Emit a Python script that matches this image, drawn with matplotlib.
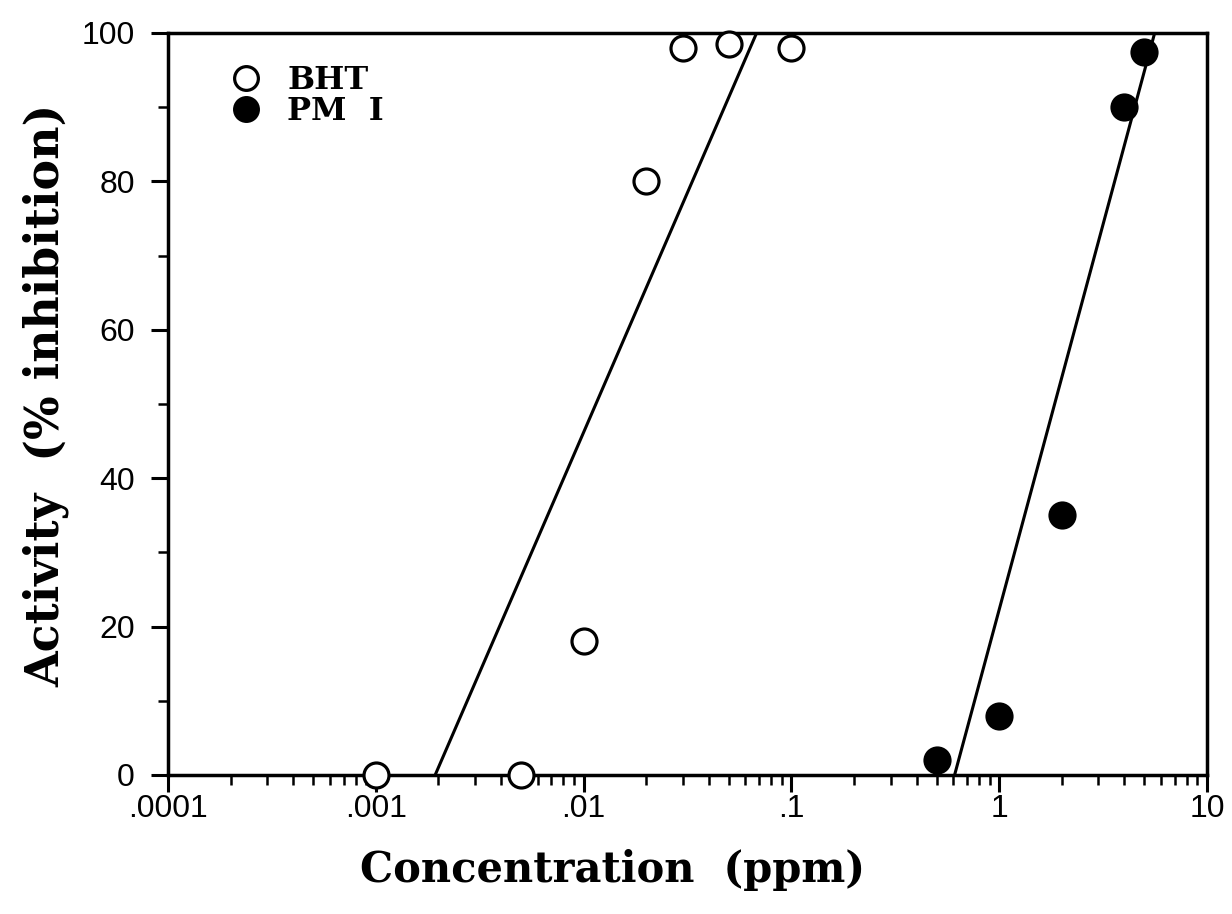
import matplotlib
matplotlib.use('Agg')
import matplotlib.pyplot as plt
import matplotlib.ticker as mticker
import numpy as np

# BHT (open circles)
bht_conc = [0.001, 0.005, 0.01, 0.02, 0.03, 0.05, 0.1]
bht_act = [0, 0, 18, 80, 98, 98.5, 98]
# PM I (filled circles)
pm_conc = [0.5, 1, 2, 4, 5]
pm_act = [2, 8, 35, 90, 97.5]

# fitted lines, concentration at 0 % and 100 %
bht_fit_conc = [0.00193, 0.068]
pm_fit_conc = [0.61, 5.6]
fit_act = [0, 100]

xticks = [1e-4, 1e-3, 1e-2, 1e-1, 1, 10]
xticklabels = ['.0001', '.001', '.01', '.1', '1', '10']
yticks = [0, 20, 40, 60, 80, 100]

fig = plt.figure(figsize=(12.32, 9.14), dpi=100)
ax = fig.add_axes([0.1364, 0.1521, 0.8433, 0.8118])

ax.plot(bht_fit_conc, fit_act, color='black', lw=2.2)
ax.plot(pm_fit_conc, fit_act, color='black', lw=2.2)
ax.plot(bht_conc, bht_act, ls='none', marker='o', ms=18, mfc='white',
        mec='black', mew=2.3, label='BHT', clip_on=False, zorder=3)
ax.plot(pm_conc, pm_act, ls='none', marker='o', ms=18, mfc='black',
        mec='black', mew=2.3, label='PM  I', clip_on=False, zorder=3)

ax.set_xscale('log')
ax.set_xlim(1e-4, 10)
ax.set_ylim(0, 100)
ax.set_xticks(xticks)
ax.set_xticklabels(xticklabels)
ax.xaxis.set_minor_locator(mticker.LogLocator(base=10, subs=np.arange(2, 10)))
ax.xaxis.set_minor_formatter(mticker.NullFormatter())
ax.set_yticks(yticks)
ax.yaxis.set_minor_locator(mticker.MultipleLocator(10))

for s in ax.spines.values():
    s.set_linewidth(2.5)
ax.tick_params(which='major', direction='out', length=12, width=2.2,
               labelsize=23, pad=2)
ax.tick_params(which='minor', direction='out', length=7, width=1.8)
ax.tick_params(axis='y', which='major', pad=12)
for lab in ax.get_xticklabels() + ax.get_yticklabels():
    lab.set_family('Liberation Sans')

ax.set_xlabel('Concentration  (ppm)', family='DejaVu Serif',
              fontweight='bold', fontsize=30)
ax.set_ylabel('Activity  (% inhibition)', family='DejaVu Serif',
              fontweight='bold', fontsize=33)
ax.xaxis.set_label_coords(0.428, -0.1)
ax.yaxis.set_label_coords(-0.095, 0.512)

ax.legend(loc='upper left', bbox_to_anchor=(0.035, 0.995), frameon=False,
          prop={'family': 'DejaVu Serif', 'weight': 'bold', 'size': 23},
          handlelength=0.8, handletextpad=0.9, labelspacing=0.0,
          markerscale=0.95)

fig.savefig('out.png', dpi=100)
